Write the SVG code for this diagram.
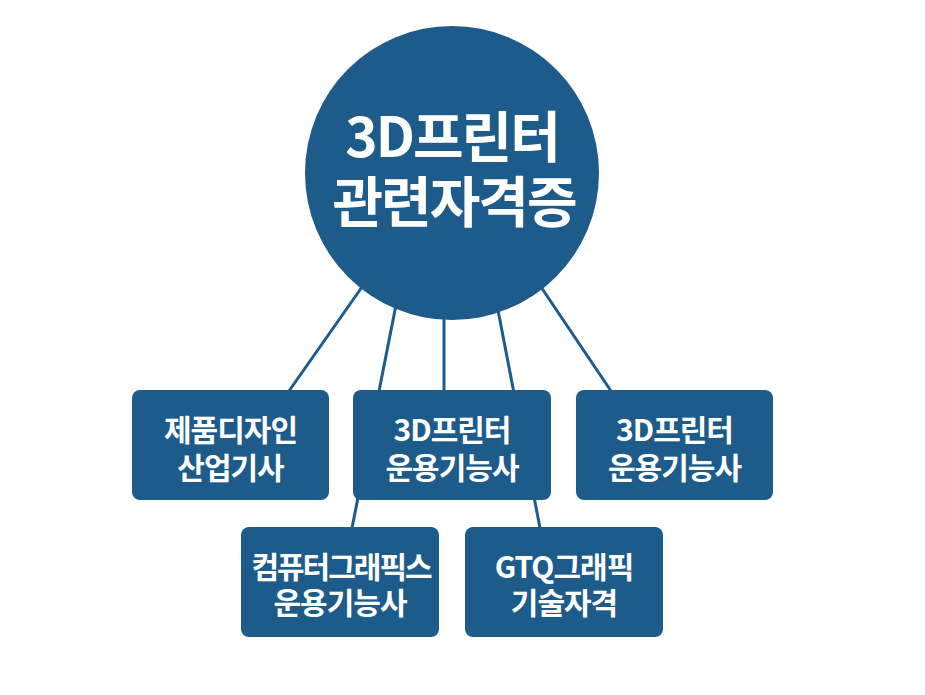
<svg xmlns="http://www.w3.org/2000/svg" width="925" height="695" viewBox="0 0 925 695">
<style>
.n{fill:#1d5b8b}
.c{stroke:#1d5b8b;stroke-width:3;fill:none}
text{font-family:"Noto Sans CJK KR","Noto Sans",sans-serif;font-weight:700;fill:#fff;text-anchor:middle}
.t{font-size:30px;letter-spacing:-1px}
.h{font-size:55px;letter-spacing:-2px}
</style>
<rect width="925" height="695" fill="#fff"/>
<g id="connectors">
<line class="c" x1="362" y1="287" x2="289" y2="391"/>
<line class="c" x1="396" y1="305" x2="352" y2="528"/>
<line class="c" x1="444" y1="318" x2="444" y2="391"/>
<line class="c" x1="497" y1="305" x2="540" y2="528"/>
<line class="c" x1="541" y1="287" x2="611" y2="391"/>
</g>
<g id="center">
<circle class="n" cx="452" cy="173" r="147"/>
<text class="h" x="452" y="157">3D프린터</text>
<text class="h" x="454" y="222">관련자격증</text>
</g>
<g id="n1">
<rect class="n" x="132" y="390" width="197" height="110" rx="8"/>
<text class="t" x="230.5" y="441">제품디자인</text>
<text class="t" x="230.5" y="479">산업기사</text>
</g>
<g id="n2">
<rect class="n" x="353" y="390" width="198" height="110" rx="8"/>
<text class="t" x="452" y="441">3D프린터</text>
<text class="t" x="452" y="479">운용기능사</text>
</g>
<g id="n3">
<rect class="n" x="576" y="390" width="197" height="110" rx="8"/>
<text class="t" x="674.5" y="441">3D프린터</text>
<text class="t" x="674.5" y="479">운용기능사</text>
</g>
<g id="n4">
<rect class="n" x="241" y="527" width="198" height="110" rx="8"/>
<text class="t" x="341" y="578" style="letter-spacing:-2px">컴퓨터그래픽스</text>
<text class="t" x="340" y="614">운용기능사</text>
</g>
<g id="n5">
<rect class="n" x="465" y="527" width="198" height="110" rx="8"/>
<text class="t" x="564" y="578">GTQ그래픽</text>
<text class="t" x="564" y="614">기술자격</text>
</g>
</svg>
